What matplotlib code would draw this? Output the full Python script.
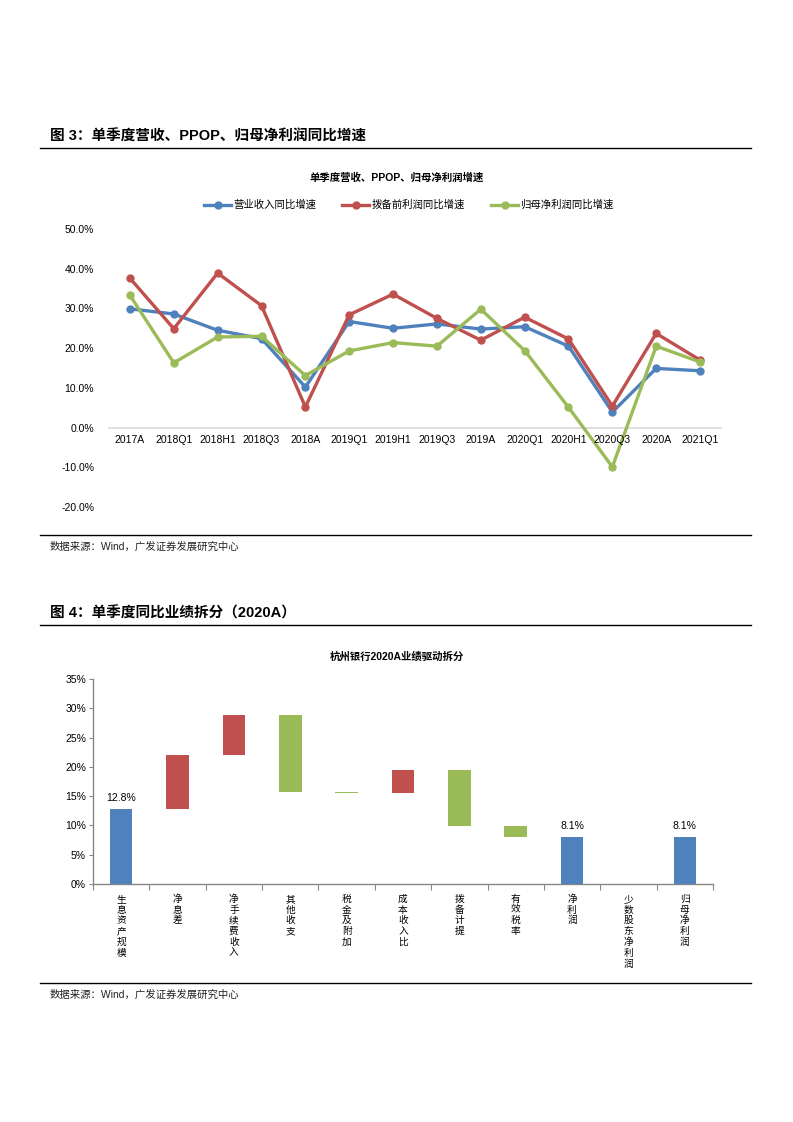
import matplotlib
matplotlib.use("Agg")
import matplotlib.pyplot as plt
from matplotlib.lines import Line2D

plt.rcParams['font.family'] = ['Liberation Sans', 'Noto Sans CJK SC', 'DejaVu Sans']

# ---------------- data ----------------
periods = ["2017A", "2018Q1", "2018H1", "2018Q3", "2018A", "2019Q1", "2019H1",
           "2019Q3", "2019A", "2020Q1", "2020H1", "2020Q3", "2020A", "2021Q1"]
revenue_yoy = [29.9, 28.6, 24.5, 22.4, 10.2, 26.7, 25.0, 26.1, 24.8, 25.4, 20.5, 3.9, 14.9, 14.3]
ppop_yoy = [37.6, 24.9, 38.9, 30.7, 5.2, 28.4, 33.6, 27.5, 22.0, 27.8, 22.3, 5.4, 23.7, 17.0]
netprofit_yoy = [33.3, 16.3, 22.8, 23.0, 13.1, 19.3, 21.4, 20.5, 29.8, 19.4, 5.1, -9.9, 20.5, 16.5]
series_names = ["营业收入同比增速", "拨备前利润同比增速", "归母净利润同比增速"]

wf_categories = ["生息资产规模", "净息差", "净手续费收入", "其他收支", "税金及附加", "成本收入比",
                 "拨备计提", "有效税率", "净利润", "少数股东净利润", "归母净利润"]
wf_changes = [12.8, 9.3, 6.8, -13.2, -0.1, 3.8, -9.5, -1.8, 8.1, -0.05, 8.1]
wf_is_total = [True, False, False, False, False, False, False, False, True, False, True]
wf_yticks = [0, 5, 10, 15, 20, 25, 30, 35]
line_yticks = [-20, -10, 0, 10, 20, 30, 40, 50]

BLUE, RED, GREEN = "#4F81BD", "#C0504D", "#9BBB59"
W, H = 793, 1122

fig = plt.figure(figsize=(W / 100, H / 100), dpi=100)


def rect(x0, y0, x1, y1):
    return [x0 / W, 1 - y1 / H, (x1 - x0) / W, (y1 - y0) / H]


def hline(y, x0=40, x1=751, lw=1.0):
    fig.add_artist(Line2D([x0 / W, x1 / W], [1 - y / H, 1 - y / H], color="black", lw=lw))


def ftext(x, y, s, **kw):
    fig.text(x / W, 1 - y / H, s, **kw)


# ---------------- section 1 ----------------
ftext(50, 137, "图 3：单季度营收、PPOP、归母净利润同比增速", fontsize=10.5, fontweight="bold", va="center")
hline(148)
ftext(397, 178, "单季度营收、PPOP、归母净利润增速", fontsize=7.5, fontweight="bold", ha="center", va="center")

ax1 = fig.add_axes(rect(108, 229, 722, 507))
x = list(range(len(periods)))
for vals, col, name in zip([revenue_yoy, ppop_yoy, netprofit_yoy], [BLUE, RED, GREEN], series_names):
    ax1.plot(x, vals, color=col, lw=2.4, marker="o", markersize=5, label=name, zorder=3)
ax1.set_xlim(-0.5, len(periods) - 0.5)
ax1.set_ylim(-20, 50)
ax1.axhline(0, color="#D9D9D9", lw=1.2, zorder=1)
for s in ax1.spines.values():
    s.set_visible(False)
ax1.set_xticks([])
ax1.set_yticks(line_yticks)
ax1.set_yticklabels([f"{v:.1f}%" for v in line_yticks], fontsize=7.5)
ax1.tick_params(axis="y", length=0, pad=10)
for i, p in enumerate(periods):
    ax1.annotate(p, (i, 0), xytext=(0, -5), textcoords="offset points",
                 ha="center", va="top", fontsize=7.5)
leg = ax1.legend(loc="center", bbox_to_anchor=(0.49, 1 + (229 - 205) / (507 - 229)), ncol=3,
                 frameon=False, fontsize=7.5, handlelength=2.6, columnspacing=2.5,
                 handletextpad=0.2, borderaxespad=0)

hline(535)
ftext(50, 547, "数据来源：Wind，广发证券发展研究中心", fontsize=7.5, va="center", color="#222222")

# ---------------- section 2 ----------------
ftext(50, 613, "图 4：单季度同比业绩拆分（2020A）", fontsize=10.5, fontweight="bold", va="center")
hline(625)
ftext(397, 657, "杭州银行2020A业绩驱动拆分", fontsize=7.5, fontweight="bold", ha="center", va="center")

ax2 = fig.add_axes(rect(93, 679, 713, 884))
level = 0.0
for i, (chg, tot) in enumerate(zip(wf_changes, wf_is_total)):
    if tot:
        bottom, height, col = 0, chg, BLUE
        level = chg
    else:
        if abs(chg) < 0.08 and i == 9:
            col = "#EEECE1"
        else:
            col = RED if chg > 0 else GREEN
        bottom = level if chg > 0 else level + chg
        height = abs(chg)
        level += chg
    ax2.bar(i, height, bottom=bottom, width=0.4, color=col, edgecolor="none", zorder=3)
    if tot:
        ax2.annotate(f"{chg:.1f}%", (i, chg), xytext=(0, 4), textcoords="offset points",
                     ha="center", va="bottom", fontsize=7.5)

ax2.set_xlim(-0.5, len(wf_categories) - 0.5)
ax2.set_ylim(0, 35)
ax2.set_yticks(wf_yticks)
ax2.set_yticklabels([f"{v}%" for v in wf_yticks], fontsize=7.5)
ax2.set_xticks([i - 0.5 for i in range(len(wf_categories) + 1)])
ax2.set_xticklabels([])
ax2.tick_params(axis="y", length=3, color="#868686", pad=2)
ax2.tick_params(axis="x", length=4, color="#868686", direction="out")
for side in ["top", "right"]:
    ax2.spines[side].set_visible(False)
for side in ["left", "bottom"]:
    ax2.spines[side].set_color("#868686")
    ax2.spines[side].set_linewidth(1.0)
for i, c in enumerate(wf_categories):
    ax2.annotate("\n".join(c), (i, 0), xytext=(0, -7), textcoords="offset points",
                 ha="center", va="top", fontsize=7, linespacing=1.1,
                 family=["Noto Sans CJK SC"])

hline(983)
ftext(50, 995, "数据来源：Wind，广发证券发展研究中心", fontsize=7.5, va="center", color="#222222")

fig.savefig("out.png", dpi=100)
